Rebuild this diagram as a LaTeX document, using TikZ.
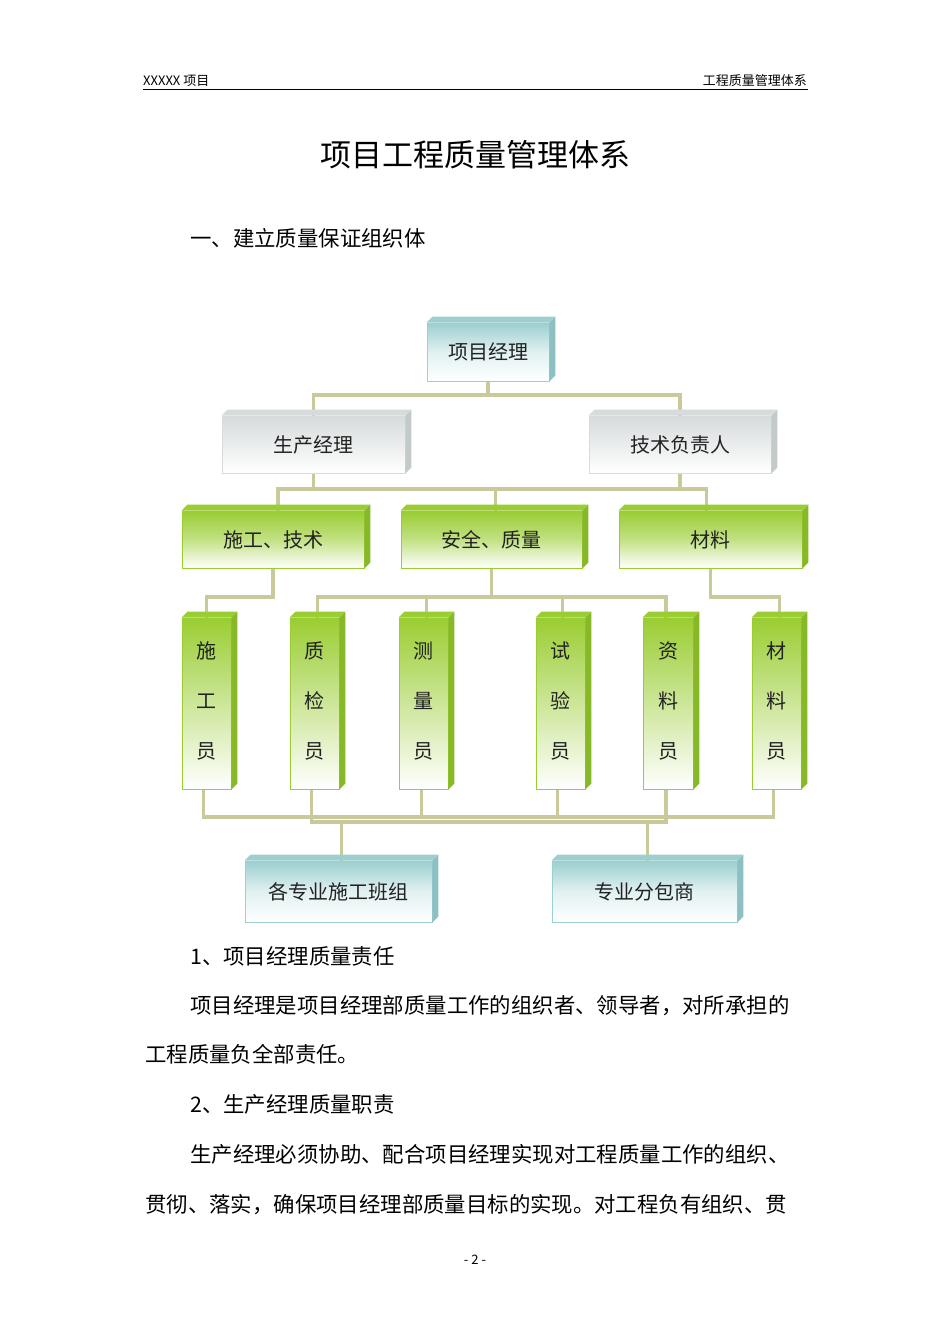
\documentclass[tikz,border=0pt]{standalone}
\usepackage{fontspec}
\setmainfont{Noto Sans CJK SC}
\usetikzlibrary{backgrounds,calc}
\definecolor{teal1}{HTML}{9CCFD0}
\definecolor{teal2}{HTML}{8CC0C2}
\definecolor{gray1}{HTML}{D6DBDB}
\definecolor{gray2}{HTML}{C4CACA}
\definecolor{green1}{HTML}{9ACD32}
\definecolor{green2}{HTML}{86B828}
\definecolor{conn}{HTML}{C9C99B}
\definecolor{txt}{HTML}{222222}
\tikzset{
  face/.style={inner sep=0pt, text=txt, font=\fontsize{20}{24}\selectfont},
  tealbox/.style={face, top color=teal1, bottom color=white, middle color=white!70!teal1, draw=teal1, line width=0.8pt},
  graybox/.style={face, top color=gray1, bottom color=white, draw=gray1, line width=0.8pt},
  greenbox/.style={face, top color=green1, bottom color=white, middle color=white!40!green1, draw=green1, line width=0.8pt},
  vgreen/.style={face, top color=green1, bottom color=white, draw=green1, line width=0.8pt},
  link/.style={draw=conn, line width=3.5pt, line join=miter},
  body/.style={font=\fontsize{21.4}{24}\selectfont, text=black, inner sep=0pt, anchor=base west},
}
\newcommand{\bx}[9]{% name x1 y1 x2 y2 style colour-top colour-side text
  \node[#6, minimum width={(#4-#2-6)*1pt}, minimum height={(#5-#3-6)*1pt}] (#1) at ({(#2+#4-6)/2},{(#3+6+#5)/2}) {#9};
  \fill[#7] (#1.north west) -- ++(6,-6) -- ($(#1.north east)+(6,-6)$) -- (#1.north east) -- cycle;
  \fill[#8] (#1.north east) -- ++(6,-6) -- ($(#1.south east)+(6,-6)$) -- (#1.south east) -- cycle;
}
\newcommand{\vtext}[3]{\raisebox{16pt}{\begin{tabular}{@{}c@{}}#1\\[26pt]#2\\[26pt]#3\end{tabular}}}
\begin{document}
\begin{tikzpicture}[x=1pt,y=-1pt]
\useasboundingbox (0,0) rectangle (950,1344);
\begin{scope}[on background layer]
\fill[white] (0,0) rectangle (950,1344);
\end{scope}
% header
\node[font=\fontsize{13}{15}\selectfont, anchor=base west, inner sep=0pt] (hl) at (143,85) {XXXXX 项目};
\node[font=\fontsize{13}{15}\selectfont, anchor=base east, inner sep=0pt] (hr) at (807,85) {工程质量管理体系};
\coordinate (hla) at (143,89); \coordinate (hlb) at (808,89);
\draw[line width=0.8pt] (hla) -- (hlb);
\node[font=\fontsize{31}{34}\selectfont, inner sep=0pt, anchor=base] (title) at (475,166) {项目工程质量管理体系};
\node[body] (sec) at (190,246) {一、建立质量保证组织体};
% boxes
\bx{pm}{427}{317}{555}{381}{tealbox}{teal1}{teal2}{项目经理}
\bx{sc}{222}{410}{411}{473}{graybox}{gray1}{gray2}{生产经理}
\bx{js}{589}{410}{777}{473}{graybox}{gray1}{gray2}{技术负责人}
\bx{sg}{182}{505}{370}{568}{greenbox}{green1}{green2}{施工、技术}
\bx{aq}{401}{505}{588}{568}{greenbox}{green1}{green2}{安全、质量}
\bx{cl}{619}{505}{808}{568}{greenbox}{green1}{green2}{材料}
\bx{v1}{182}{612}{237}{789}{vgreen}{green1}{green2}{\vtext{施}{工}{员}}
\bx{v2}{290}{612}{345}{789}{vgreen}{green1}{green2}{\vtext{质}{检}{员}}
\bx{v3}{399}{612}{454}{789}{vgreen}{green1}{green2}{\vtext{测}{量}{员}}
\bx{v4}{536}{612}{591}{789}{vgreen}{green1}{green2}{\vtext{试}{验}{员}}
\bx{v5}{643}{612}{699}{789}{vgreen}{green1}{green2}{\vtext{资}{料}{员}}
\bx{v6}{752}{612}{807}{789}{vgreen}{green1}{green2}{\vtext{材}{料}{员}}
\bx{b1}{245}{855}{438}{922}{tealbox}{teal1}{teal2}{各专业施工班组}
\bx{b2}{552}{855}{743}{922}{tealbox}{teal1}{teal2}{专业分包商}
% connectors
\begin{scope}[on background layer]
\draw[link] (pm.south) -- (pm.south |- 0,395) coordinate (j1);
\draw[link] (sc.north) |- (j1) -| (js.north);
\draw[link] (sc.south) -- (sc.south |- 0,489) coordinate (j2);
\draw[link] (js.south) -- (js.south |- 0,489);
\draw[link] ([xshift=5pt]sg.north) |- (j2) -| ([xshift=-4pt]cl.north);
\draw[link] ([xshift=4pt]aq.north) -- ([xshift=4pt]aq.north |- j2);
\draw[link] (sg.south) -- (sg.south |- 0,597) -| (v1.north);
\draw[link] (cl.south) -- (cl.south |- 0,597) -| ([xshift=3pt]v6.north);
\draw[link] (aq.south) -- (aq.south |- 0,597) coordinate (j3);
\draw[link] ([xshift=3pt]v2.north) |- (j3) -| ([xshift=-2pt]v5.north);
\draw[link] ([xshift=3pt]v3.north) -- ([xshift=3pt]v3.north |- j3);
\draw[link] ([xshift=2pt]v4.north) -- ([xshift=2pt]v4.north |- j3);
\coordinate (j4) at ([xshift=-3pt]v1.south |- 0,817);
\draw[link] ([xshift=-3pt]v1.south) -- (j4) -| ([xshift=-3pt]v6.south);
\draw[link] ([xshift=-2pt]v3.south) -- ([xshift=-2pt]v3.south |- j4);
\draw[link] ([xshift=-3pt]v4.south) -- ([xshift=-3pt]v4.south |- j4);
\coordinate (j5) at ([xshift=-3pt]v2.south |- 0,822);
\draw[link] ([xshift=-3pt]v2.south) -- (j5) -| ([xshift=-2pt]v5.south);
\draw[link] ([xshift=3pt]b1.north) -- ([xshift=3pt]b1.north |- j5);
\draw[link] ([xshift=3pt]b2.north) -- ([xshift=3pt]b2.north |- j5);
\end{scope}
% body text
\node[body] (t1) at (190,964) {1、项目经理质量责任};
\node[body] (t2) at (190,1013) {项目经理是项目经理部质量工作的组织者、领导者，对所承担的};
\node[body] (t3) at (145,1062) {工程质量负全部责任。};
\node[body] (t4) at (190,1112) {2、生产经理质量职责};
\node[body] (t5) at (190,1162) {生产经理必须协助、配合项目经理实现对工程质量工作的组织、};
\node[body] (t6) at (145,1212) {贯彻、落实，确保项目经理部质量目标的实现。对工程负有组织、贯};
\node[font=\fontsize{13}{15}\selectfont, inner sep=0pt, anchor=base] (pg) at (475,1264) {- 2 -};
\end{tikzpicture}
\end{document}
